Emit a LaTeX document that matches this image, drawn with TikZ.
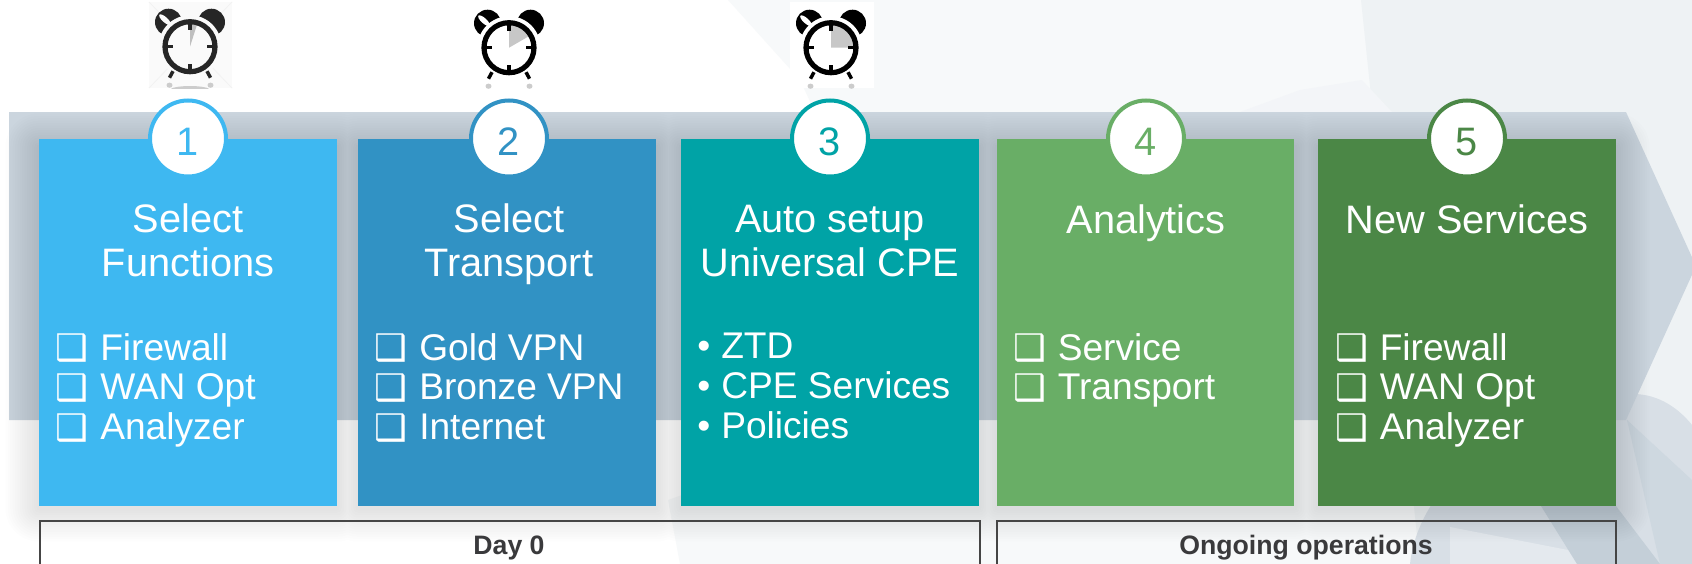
\documentclass[tikz,border=0pt]{standalone}
\usepackage{fontspec}
\setmainfont{Liberation Sans}
\newfontfamily\symfont{DejaVu Sans}
\usetikzlibrary{calc}
\definecolor{cardA}{HTML}{3EB8F1}
\definecolor{cardB}{HTML}{3192C4}
\definecolor{cardC}{HTML}{00A3A6}
\definecolor{cardD}{HTML}{69AE66}
\definecolor{cardE}{HTML}{4B8746}
\definecolor{bandc}{HTML}{CBD5DE}
\definecolor{framec}{HTML}{454545}
\definecolor{labelc}{HTML}{3A3A3C}
\definecolor{bgA}{RGB}{247,249,250}
\definecolor{bgB}{RGB}{238,242,244}
\definecolor{bgC}{RGB}{243,245,248}
\definecolor{blobA}{RGB}{216,223,230}
\definecolor{blobB}{RGB}{228,233,238}
\definecolor{blobC}{RGB}{196,207,216}
\definecolor{blobD}{RGB}{206,216,224}
\newdimen\pxu \pxu=0.75pt
\newcommand{\cb}{\makebox[43\pxu][l]{\hspace{-1.2pt}\raisebox{-0.6pt}{\fontsize{27.5pt}{30pt}\symfont\bfseries ❑}}}
\newcommand{\dotb}{\makebox[24\pxu][l]{•}}
\newcommand{\digit}[1]{\raisebox{-2.2pt}[0.716em][0pt]{#1}}
\tikzset{
  x=0.75pt,y=-0.75pt,
  card/.style={anchor=north west,inner sep=0pt,outer sep=0pt,minimum width=223.5pt,minimum height=275.25pt,fill=#1},
  ring/.style={circle,draw=#1,fill=white,text=#1,line width=3pt,minimum size=57pt,inner sep=0pt,font=\fontsize{29.8pt}{32pt}\selectfont},
  cardtitle/.style={anchor=north,align=center,text=white,inner sep=0pt,font=\fontsize{29.8pt}{33pt}\selectfont},
  cardlist/.style={anchor=north west,align=left,text=white,inner sep=0pt,font=\fontsize{27.85pt}{29.8pt}\selectfont},
  frameb/.style={anchor=north west,draw=framec,line width=1.5pt,inner sep=0pt,outer sep=0pt,minimum height=60pt},
  framelabel/.style={anchor=base,text=labelc,inner sep=0pt,font=\fontsize{20pt}{24pt}\selectfont\bfseries},
}
% soft shadow round all five cards, one path per layer so that overlaps do not add up
\newcommand{\softshadows}{%
  \foreach \k in {1,...,14}{
    \pgfmathsetmacro{\g}{2.4*\k}
    \fill[black,opacity=0.007,rounded corners=\g*0.75pt]
      (39-\g,147-\g) rectangle (337+\g,508+\g)
      (358-\g,147-\g) rectangle (656+\g,508+\g)
      (681-\g,147-\g) rectangle (979+\g,508+\g)
      (997-\g,147-\g) rectangle (1295+\g,508+\g)
      (1318-\g,147-\g) rectangle (1616+\g,508+\g);
  }}
\newcommand{\clockbody}[3]{%
  \begin{scope}[shift={(#1,#2)}]
    \draw[#3,line width=3.9pt] (0,0) circle[radius=25];
    \foreach \a in {0,90,180,270}{
      \draw[#3,line width=2.3pt,rotate=\a] (0,-25) -- (0,-17);
    }
    \draw[#3,line width=2.6pt] (-17,24.5) -- (-20.5,31);
    \draw[#3,line width=2.6pt] (17,24.5) -- (20.5,31);
    \fill[black!20] (-20.5,38.5) ellipse[x radius=3,y radius=2.6];
    \fill[black!20] (20.5,38.5) ellipse[x radius=3,y radius=2.6];
  \end{scope}}
\newcommand{\bells}[4]{%
  \begin{scope}[shift={(#1,#2)}]
    \fill[#3] (-21.5,-24.5) circle[radius=13.5];
    \fill[#3] (21.5,-24.5) circle[radius=13.5];
    \fill[#4] (0,0) circle[radius=31.5];
    \begin{scope}[rotate around={-42:(-25,-27)}]
      \fill[#4] (-25,-27) ellipse[x radius=7.5,y radius=2.6];
    \end{scope}
  \end{scope}}
\begin{document}
\begin{tikzpicture}
\clip (0,0) rectangle (1692,564);
% page background
\fill[white] (0,0) rectangle (1692,564);
\fill[bgA] (728,0) -- (1692,0) -- (1692,564) -- (680,564) -- (668,500) -- (950,400) -- (800,80) -- cycle;
\fill[bgB] (1361,0) -- (1692,0) -- (1692,564) -- (1420,564) -- cycle;
\fill[bgC] (1300,90) -- (1362,80) -- (1392,112) -- (1240,112) -- cycle;
% bottom right facets
\fill[blobA] (1410,564) .. controls (1420,470) and (1540,394) .. (1633,394) .. controls (1660,394) and (1680,410) .. (1692,425) -- (1692,564) -- cycle;
\fill[blobB] (1450,527) -- (1640,564) -- (1450,564) -- cycle;
\fill[blobC] (1541,506) -- (1616,506) -- (1660,564) -- (1577,564) -- cycle;
\fill[blobD] (1627,420) -- (1692,480) -- (1692,564) -- (1660,564) -- cycle;
% chevron band
\fill[bandc] (9,112) -- (1626,112) -- (1696,266) -- (1626,420) -- (9,420) -- cycle;
% shadows
\softshadows
% clock image backgrounds
\fill[color={rgb,255:red,250;green,250;blue,250}] (149,2) rectangle (232,88);
\draw[black!5,line width=0.6pt] (149,2) -- (232,88) (232,2) -- (149,88);
\fill[white] (790,2) rectangle (874,88);
% clock 1
\begin{scope}
\clip (149,2) rectangle (232,88);
\bells{190}{46.7}{black!85}{white!98!black}
\fill[black!25] (190,46.7) -- (190,21) -- (198,21.5) -- cycle;
\clockbody{190}{46.7}{black!85}
\fill[black!20] (190,90) ellipse[x radius=20,y radius=4];
\end{scope}
% clock 2
\begin{scope}
\clip (468,2) rectangle (552,88);
\bells{509}{47.7}{black}{white}
\fill[black!22] (509,47.7) -- (509,22) arc[start angle=-90,delta angle=60,radius=25.7] -- cycle;
\clockbody{509}{47.7}{black}
\end{scope}
% clock 3
\begin{scope}
\clip (790,2) rectangle (874,88);
\bells{831}{47.7}{black}{white}
\fill[black!22] (831,47.7) -- (831,22) arc[start angle=-90,delta angle=90,radius=25.7] -- cycle;
\clockbody{831}{47.7}{black}
\end{scope}
% cards
\node[card=cardA] (c1) at (39,139) {};
\node[card=cardB] (c2) at (358,139) {};
\node[card=cardC] (c3) at (681,139) {};
\node[card=cardD,minimum width=223.1pt] (c4) at (996.8,139) {};
\node[card=cardE] (c5) at (1318,139) {};
% rings
\node[ring=cardA] (r1) at (188,138.5) {\digit{1}};
\node[ring=cardB] (r2) at (509,138.5) {\digit{2}};
\node[ring=cardC] (r3) at (830,138.5) {\digit{3}};
\node[ring=cardD] (r4) at (1146,138.5) {\digit{4}};
\node[ring=cardE] (r5) at (1467,138.5) {\digit{5}};
% titles
\node[cardtitle] (t1) at (188,203.6) {Select\\Functions};
\node[cardtitle] (t2) at (509,203.6) {Select\\Transport};
\node[cardtitle] (t3) at (830,205) {Auto setup\\Universal CPE};
\node[cardtitle] (t4) at (1146,204) {Analytics};
\node[cardtitle] (t5) at (1467,204) {New Services};
% lists
\node[cardlist] (l1) at (57,333) {\cb Firewall\\\cb WAN Opt\\\cb Analyzer};
\node[cardlist] (l2) at (376,333) {\cb Gold VPN\\\cb Bronze VPN\\\cb Internet};
\node[cardlist] (l3) at (697,333) {\dotb ZTD\\\dotb CPE Services\\\dotb Policies};
\node[cardlist] (l4) at (1014.5,333) {\cb Service\\\cb Transport};
\node[cardlist] (l5) at (1336.5,333) {\cb Firewall\\\cb WAN Opt\\\cb Analyzer};
% bottom frames
\node[frameb,minimum width=705pt] (f1) at (39.5,521) {};
\node[frameb,minimum width=464.6pt] (f2) at (996.8,521) {};
\node[framelabel] (d0) at (509,554) {Day 0};
\node[framelabel] (ongoing) at (1306,554) {Ongoing operations};
\end{tikzpicture}
\end{document}
